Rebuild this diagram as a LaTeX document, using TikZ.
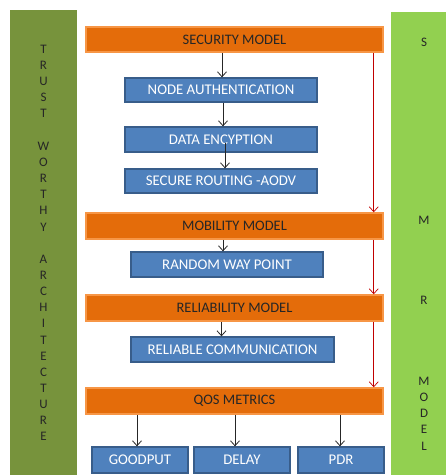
\documentclass[tikz,border=0pt]{standalone}
\usepackage{fontspec}
\setmainfont{Carlito}
\usepackage{tikz}
\usetikzlibrary{positioning,arrows.meta}
\definecolor{barleft}{HTML}{77933C}
\definecolor{barright}{HTML}{92D050}
\definecolor{orfill}{HTML}{E46C0A}
\definecolor{ordraw}{HTML}{F79646}
\definecolor{blfill}{HTML}{4F81BD}
\definecolor{bldraw}{HTML}{385D8A}
\definecolor{redline}{HTML}{C00000}
\tikzstyle{m} = [rectangle, draw=ordraw, fill=orfill, line width=1.5pt, inner sep=0pt, minimum width=297pt, minimum height=25pt, text=black!85, font=\fontsize{14.5}{16}\selectfont]
\tikzstyle{s} = [rectangle, draw=bldraw, fill=blfill, line width=1.3pt, inner sep=0pt, minimum height=24pt, text=white, font=\fontsize{14.8}{16}\selectfont]
\tikzstyle{bar} = [rectangle, inner sep=0pt, align=center, text=black!85, font=\fontsize{13}{16.15}\selectfont]

\begin{document}
\begin{tikzpicture}[x=1pt,y=-1pt]
\tikzstyle{arr} = [-{Straight Barb[length=5pt,width=9pt]}, black!85, line width=0.8pt]
\tikzstyle{rarr} = [-{Straight Barb[length=5pt,width=9pt]}, redline, line width=0.7pt]
\useasboundingbox (0,0) rectangle (446,475);
\node[bar, fill=barleft, minimum width=67pt, minimum height=466pt] (trust) at (43.5,243)
  {T\\R\\U\\S\\T\\[\baselineskip]W\\O\\R\\T\\H\\Y\\[\baselineskip]A\\R\\C\\H\\I\\T\\E\\C\\T\\U\\R\\E};
\node[bar, fill=barright, minimum width=66pt, minimum height=464pt] (smr) at (424,244)
  {S\\[10\baselineskip]M\\[4\baselineskip]R\\[4\baselineskip]M\\O\\D\\E\\L};
\node[m] (sec) at (234.5,39.5) {SECURITY MODEL};
\node[s, minimum width=192pt] (auth) at (221,90) {NODE AUTHENTICATION};
\node[s, minimum width=192pt, minimum height=25pt] (data) at (221,139.5) {DATA ENCYPTION};
\node[s, minimum width=192pt] (route) at (221,181) {SECURE ROUTING -AODV};
\node[m, minimum height=26pt] (mob) at (234.5,226) {MOBILITY MODEL};
\node[s, minimum width=192pt, minimum height=25pt] (rwp) at (227,264.5) {RANDOM WAY POINT};
\node[m, minimum height=26pt] (rel) at (234.5,308) {RELIABILITY MODEL};
\node[s, minimum width=203pt, minimum height=25pt] (relc) at (232.5,349.5) {RELIABLE COMMUNICATION};
\node[m, minimum height=26pt] (qos) at (234.5,401) {QOS METRICS};
\node[s, minimum width=96pt, minimum height=26pt] (good) at (140,460) {GOODPUT};
\node[s, minimum width=96pt, minimum height=26pt] (delay) at (242,460) {DELAY};
\node[s, minimum width=86pt, minimum height=26pt] (pdr) at (341,460) {PDR};
\draw[arr] ([xshift=1pt]sec.south -| auth.north) -- ([xshift=1pt]auth.north);
\draw[arr] ([xshift=2pt]auth.south) -- ([xshift=2pt]data.north);
\draw[arr] ([xshift=4pt,yshift=-3pt]data.center) -- ([xshift=4pt]route.north);
\draw[arr] ([xshift=-4pt]mob.south -| rwp.north) -- ([xshift=-4pt]rwp.north);
\draw[arr] ([xshift=-11pt]rel.south -| relc.north) -- ([xshift=-11pt]relc.north);
\draw[arr] ([xshift=-3pt]qos.south -| good.north) -- ([xshift=-3pt]good.north);
\draw[arr] ([xshift=-7pt]qos.south -| delay.north) -- ([xshift=-7pt]delay.north);
\draw[arr] ([xshift=-1pt]qos.south -| pdr.north) -- ([xshift=-1pt]pdr.north);
\draw[rarr] ([xshift=-10pt]sec.south east) -- ([xshift=-10pt]mob.north east);
\draw[rarr] ([xshift=-10pt]mob.south east) -- ([xshift=-10pt]rel.north east);
\draw[rarr] ([xshift=-10pt]rel.south east) -- ([xshift=-10pt]qos.north east);
\end{tikzpicture}
\end{document}
